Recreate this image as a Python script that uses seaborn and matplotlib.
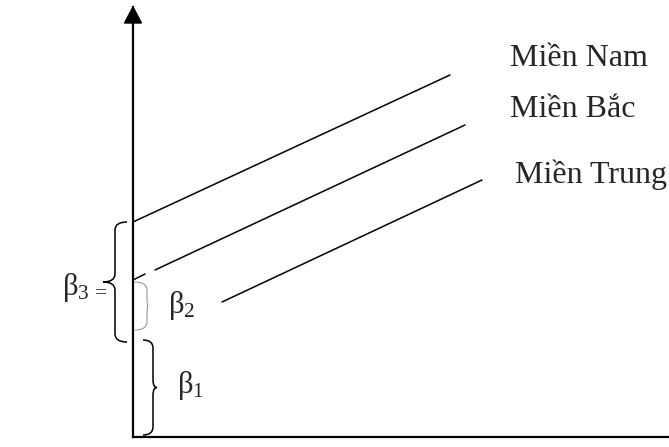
import numpy as np
import pandas as pd
import seaborn as sns
import matplotlib.pyplot as plt
from matplotlib.path import Path
from matplotlib.patches import PathPatch

# line segments (x from the y axis, y above the x axis, in px)
regions = ["Miền Nam", "Miền Bắc", "Miền Bắc", "Miền Trung"]
segments = [0, 1, 2, 3]
x_start = [0, 0, 22, 89]
x_end = [317, 12, 332, 349]
y_start = [215, 157, 167, 135]
y_end = [362, 163, 312, 257]

# region labels
label_names = ["Miền Nam", "Miền Bắc", "Miền Trung"]
label_x = [377, 377, 382]
label_y = [371, 320, 254]

# braces: top, bottom, end x, spine x, tip x
brace_top = [97, 155, 215]
brace_bottom = [2, 107, 95]
brace_end = [10, 2, -6]
brace_spine = [20, 14, -18]
brace_tip = [24, 15, -30]
brace_color = ["black", "#8a8a8a", "black"]
brace_lw = [1.1, 0.7, 1.1]

beta_text = [r"$\mathrm{β}_1$", r"$\mathrm{β}_2$", r"$\mathrm{β}_{3\,=}$"]
beta_x = [44, 35, -71]
beta_y = [52, 131, 150]

df = pd.DataFrame({
    "region": regions * 2,
    "seg": segments * 2,
    "x": x_start + x_end,
    "y": y_start + y_end,
})

sns.set_style("white")
plt.rcParams["font.family"] = ["Liberation Serif", "DejaVu Serif"]
plt.rcParams["mathtext.fontset"] = "custom"
plt.rcParams["mathtext.rm"] = "Liberation Serif"
plt.rcParams["mathtext.it"] = "Liberation Serif:italic"

fig = plt.figure(figsize=(6.69, 4.47), dpi=100)
ax = fig.add_axes([133 / 669, 10 / 447, 536 / 669, 430 / 447])

sns.lineplot(data=df, x="x", y="y", hue="region", units="seg", estimator=None,
             sort=False, palette=["black"] * 3, linewidth=1.1, legend=False, ax=ax)

ax.set_xlim(0, 536)
ax.set_ylim(0, 430)
ax.set_xticks([])
ax.set_yticks([])
ax.set_xlabel("")
ax.set_ylabel("")
for s in ["top", "right"]:
    ax.spines[s].set_visible(False)
for s in ["left", "bottom"]:
    ax.spines[s].set_linewidth(1.6)
    ax.spines[s].set_color("black")

# arrow head on the y axis
ax.fill([-8.5, 8.5, 0], [414, 414, 430], color="black", clip_on=False)


def brace(top, bottom, xe, xs, xt, color, lw):
    ym = (top + bottom) / 2
    r = min(8, (top - bottom) / 4)
    verts = [(xe, top), (xs, top), (xs, top - r),
             (xs, ym + r), (xs, ym), (xt, ym),
             (xs, ym), (xs, ym - r),
             (xs, bottom + r), (xs, bottom), (xe, bottom)]
    codes = [Path.MOVETO, Path.CURVE3, Path.CURVE3,
             Path.LINETO, Path.CURVE3, Path.CURVE3,
             Path.CURVE3, Path.CURVE3,
             Path.LINETO, Path.CURVE3, Path.CURVE3]
    ax.add_patch(PathPatch(Path(verts, codes), fill=False, edgecolor=color,
                           linewidth=lw, clip_on=False))


for i in range(3):
    brace(brace_top[i], brace_bottom[i], brace_end[i], brace_spine[i],
          brace_tip[i], brace_color[i], brace_lw[i])

for name, x, y in zip(label_names, label_x, label_y):
    ax.text(x, y, name, fontsize=23, ha="left", va="baseline", clip_on=False)

for t, x, y in zip(beta_text, beta_x, beta_y):
    ax.text(x, y, t, fontsize=22, ha="left", va="center", clip_on=False)

fig.savefig("out.png", dpi=100)
